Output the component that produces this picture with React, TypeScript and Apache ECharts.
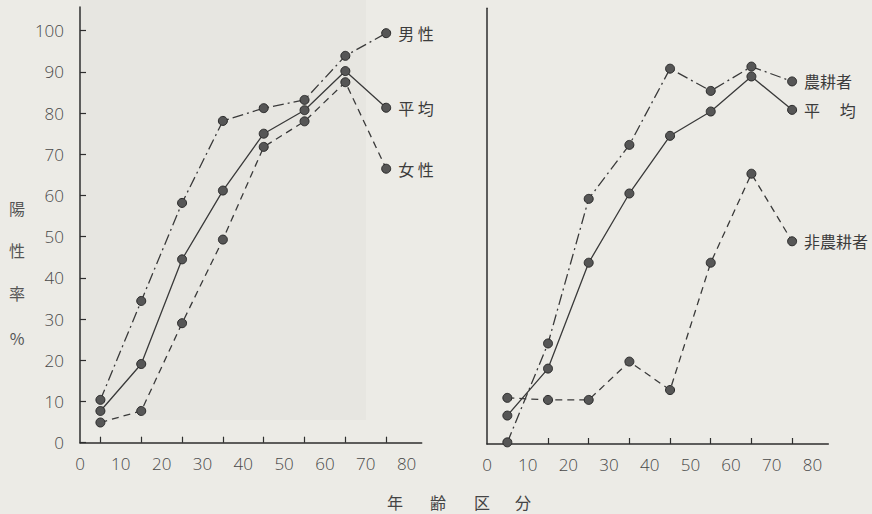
import React, { useEffect, useRef } from "react";
import * as echarts from "echarts";

const ages = [5, 15, 25, 35, 45, 55, 65, 75];
const xLabelValues = [0, 10, 20, 30, 40, 50, 60, 70, 80];
const yLabelValues = [0, 10, 20, 30, 40, 50, 60, 70, 80, 90, 100];

const maleRates = [10.4, 34.4, 58.2, 78.1, 81.2, 83.2, 93.9, 99.4];
const avgLeftRates = [7.7, 19.1, 44.5, 61.2, 75.0, 80.7, 90.2, 81.3];
const femaleRates = [4.9, 7.7, 29.0, 49.3, 71.8, 78.0, 87.5, 66.5];

const farmerRates = [0.4, 24.4, 59.5, 72.6, 91.1, 85.7, 91.6, 88.0];
const avgRightRates = [6.9, 18.3, 44.0, 60.8, 74.8, 80.7, 89.2, 81.1];
const nonFarmerRates = [11.2, 10.7, 10.7, 20.0, 13.1, 44.0, 65.6, 49.2];

const yAxisTitle = ["陽", "性", "率", "%"];
const xAxisTitle = ["年", "齢", "区", "分"];

const INK = "#3a3a3a";
const TEXT = "#3c3c3c";
const FONT = "'Noto Sans CJK JP', 'Noto Sans', sans-serif";
const NUM_FONT = "'Open Sans', 'Noto Sans', sans-serif";

const DASH_DOT = [11, 4, 2, 4];
const DASHED = [7, 5];

function makeSeries(name: string, label: string, values: number[], idx: number, type: any) {
  return {
    type: "line",
    name,
    xAxisIndex: idx,
    yAxisIndex: idx,
    data: ages.map((a, i) => [a, values[i]]),
    symbol: "circle",
    symbolSize: 9,
    itemStyle: { color: "#565656", borderColor: "#2a2a2a", borderWidth: 1 },
    lineStyle: { color: INK, width: 1.3, type },
    endLabel: {
      show: true,
      formatter: label,
      distance: 12,
      fontSize: 16,
      color: TEXT,
      fontFamily: FONT,
    },
  };
}

export default function App() {
  const ref = useRef<HTMLDivElement>(null);
  useEffect(() => {
    if (!ref.current) return;
    const chart = echarts.init(ref.current, null, { renderer: "svg" });
    const xAxisBase = (gridIndex: number, max: number) => ({
      type: "value",
      gridIndex,
      min: 0,
      max,
      splitLine: { show: false },
      axisLine: { show: true, lineStyle: { color: "#2e2e2e", width: 1.5 } },
      axisTick: {
        show: true,
        inside: true,
        length: 6,
        customValues: ages,
        lineStyle: { color: "#2e2e2e", width: 1.2 },
      },
      axisLabel: {
        customValues: xLabelValues,
        margin: 12,
        fontSize: 17,
        fontWeight: 300,
        color: "#484848",
        fontFamily: NUM_FONT,
      },
    });
    chart.setOption({
      animation: false,
      backgroundColor: "#ecebe6",
      textStyle: { fontFamily: FONT },
      grid: [
        { left: 80, top: 7, width: 341.7, height: 435.7 },
        { left: 487, top: 8.3, width: 341.3, height: 435.7 },
      ],
      xAxis: [xAxisBase(0, 83.7), xAxisBase(1, 83.9)],
      yAxis: [
        {
          type: "value",
          gridIndex: 0,
          min: 0,
          max: 105.75,
          splitLine: { show: false },
          axisLine: { show: true, lineStyle: { color: "#2e2e2e", width: 1.5 } },
          axisTick: {
            show: true,
            inside: true,
            length: 6,
            customValues: yLabelValues,
            lineStyle: { color: "#2e2e2e", width: 1.2 },
          },
          axisLabel: {
            customValues: yLabelValues,
            margin: 16,
            fontSize: 17,
            fontWeight: 300,
            color: "#484848",
            fontFamily: NUM_FONT,
          },
        },
        {
          type: "value",
          gridIndex: 1,
          min: 0,
          max: 105.75,
          splitLine: { show: false },
          axisLine: { show: true, lineStyle: { color: "#2e2e2e", width: 1.5 } },
          axisTick: { show: false },
          axisLabel: { show: false },
        },
      ],
      graphic: [
        {
          type: "rect",
          silent: true,
          z: -10,
          shape: { x: 81, y: 0, width: 285, height: 420 },
          style: { fill: "#e7e6e1" },
        },
        ...yAxisTitle.map((t, i) => ({
          type: "text",
          x: 17,
          y: [208, 250, 293, 338][i],
          style: {
            text: t,
            fontSize: 16,
            fill: "#555",
            fontFamily: FONT,
            align: "center",
            verticalAlign: "middle",
          },
        })),
        ...xAxisTitle.map((t, i) => ({
          type: "text",
          x: [395, 438, 482, 523][i],
          y: 502,
          style: {
            text: t,
            fontSize: 16,
            fill: "#444",
            fontFamily: FONT,
            align: "center",
            verticalAlign: "middle",
          },
        })),
      ],
      series: [
        makeSeries("男性", "男 性", maleRates, 0, DASH_DOT),
        makeSeries("平均", "平 均", avgLeftRates, 0, "solid"),
        makeSeries("女性", "女 性", femaleRates, 0, DASHED),
        makeSeries("農耕者", "農耕者", farmerRates, 1, DASH_DOT),
        makeSeries("平均 ", "平　 均", avgRightRates, 1, "solid"),
        makeSeries("非農耕者", "非農耕者", nonFarmerRates, 1, DASHED),
      ],
    });
    return () => chart.dispose();
  }, []);
  return (
    <div
      ref={ref}
      style={{ position: "fixed", left: 0, top: 0, width: 872, height: 514 }}
    />
  );
}
